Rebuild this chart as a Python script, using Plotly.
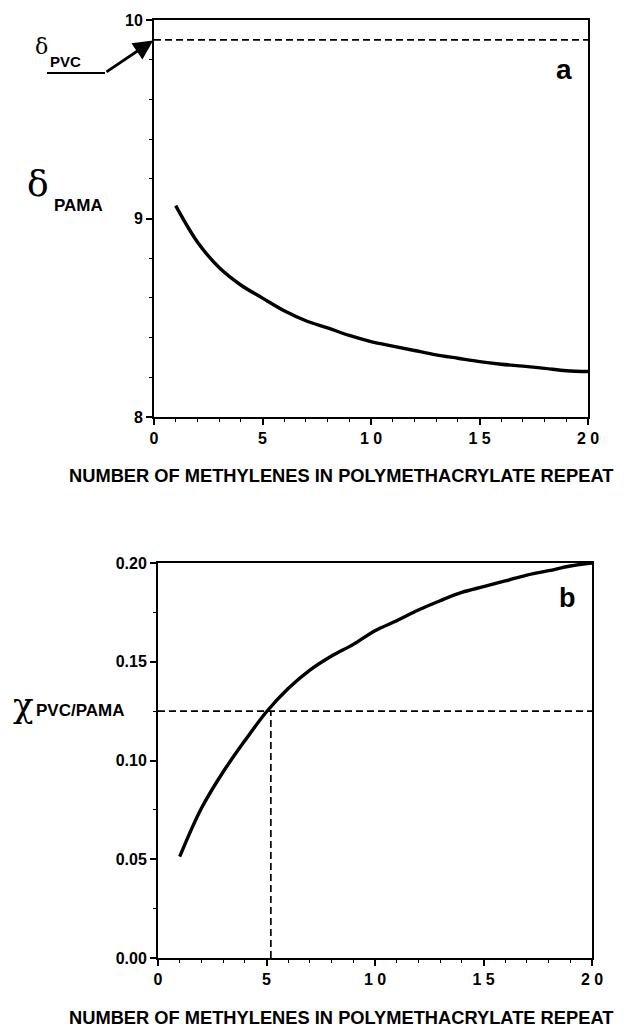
import plotly.graph_objects as go

# ---- data ----
n_methylenes = [1, 2, 3, 4, 5, 6, 7, 8, 9, 10, 11, 12, 13, 14, 15, 16, 17, 18, 19, 20]
delta_pama = [9.065, 8.882, 8.753, 8.665, 8.599, 8.535, 8.485, 8.449, 8.411, 8.380,
              8.357, 8.335, 8.313, 8.296, 8.279, 8.266, 8.256, 8.245, 8.233, 8.229]
chi_pvc_pama = [0.0513, 0.0758, 0.0942, 0.1100, 0.1247, 0.1365, 0.1458, 0.1529, 0.1588, 0.1657,
                0.1708, 0.1762, 0.1809, 0.1851, 0.1880, 0.1909, 0.1939, 0.1961, 0.1985, 0.2000]
delta_pvc = 9.9
chi_crit = 0.125
n_crit = 5.2

x_tickvals = [0, 5, 10, 15, 20]
x_ticktext = ["0", "5", "1 0", "1 5", "2 0"]
ya_tickvals = [8, 9, 10]
ya_ticktext = ["8", "9", "10"]
yb_tickvals = [0.0, 0.05, 0.10, 0.15, 0.20]
yb_ticktext = ["0.00", "0.05", "0.10", "0.15", "0.20"]
x_title = "NUMBER OF METHYLENES IN POLYMETHACRYLATE REPEAT"

W, H = 630, 1030
SANS = "Liberation Sans"
SERIF = "DejaVu Serif"

fig = go.Figure()

# panel a
fig.add_trace(go.Scatter(x=[0, 20], y=[delta_pvc, delta_pvc], mode="lines",
                         line=dict(color="black", width=1.7, dash="7px,4px"),
                         xaxis="x", yaxis="y", hoverinfo="skip"))
fig.add_trace(go.Scatter(x=n_methylenes, y=delta_pama, mode="lines",
                         line=dict(color="black", width=3.4, shape="spline"),
                         xaxis="x", yaxis="y"))
# panel b
fig.add_trace(go.Scatter(x=[0, 20], y=[chi_crit, chi_crit], mode="lines",
                         line=dict(color="black", width=1.7, dash="7px,4px"),
                         xaxis="x2", yaxis="y2", hoverinfo="skip"))
fig.add_trace(go.Scatter(x=[n_crit, n_crit], y=[0, chi_crit], mode="lines",
                         line=dict(color="black", width=1.7, dash="7px,4px"),
                         xaxis="x2", yaxis="y2", hoverinfo="skip"))
fig.add_trace(go.Scatter(x=n_methylenes, y=chi_pvc_pama, mode="lines",
                         line=dict(color="black", width=3.4, shape="spline"),
                         xaxis="x2", yaxis="y2"))

tickfont = dict(family=SANS, size=16, color="black")

def bold(lst):
    return ["<b>%s</b>" % t for t in lst]

def xax(domain, anchor):
    return dict(domain=domain, anchor=anchor, range=[0, 20], automargin=False,
                tickmode="array", tickvals=x_tickvals, ticktext=bold(x_ticktext),
                ticks="outside", ticklen=6, tickwidth=1.5, tickcolor="black",
                showline=True, linewidth=2, linecolor="black", mirror=True,
                showgrid=False, zeroline=False, tickfont=tickfont,
                minor=dict(dtick=1, tick0=0, ticks="outside", ticklen=3,
                           tickwidth=1.2, tickcolor="black", showgrid=False),
                fixedrange=True)

def yax(domain, anchor, rng, vals, text, minor_dtick):
    return dict(domain=domain, anchor=anchor, range=rng, automargin=False,
                tickmode="array", tickvals=vals, ticktext=bold(text),
                ticks="outside", ticklen=6, tickwidth=1.5, tickcolor="black",
                showline=True, linewidth=2, linecolor="black", mirror=True,
                showgrid=False, zeroline=False, tickfont=tickfont,
                minor=dict(dtick=minor_dtick, tick0=rng[0], ticks="outside", ticklen=3,
                           tickwidth=1.2, tickcolor="black", showgrid=False),
                fixedrange=True)

def px(xp):
    return xp / W

def py(yp):
    return 1 - yp / H

fig.update_layout(
    width=W, height=H,
    margin=dict(l=0, r=0, t=0, b=0, pad=0, autoexpand=False),
    paper_bgcolor="white", plot_bgcolor="white",
    showlegend=False,
    xaxis=xax([px(154), px(588)], "y"),
    yaxis=yax([py(417), py(20)], "x", [8, 10], ya_tickvals, ya_ticktext, 0.2),
    xaxis2=xax([px(158), px(592)], "y2"),
    yaxis2=yax([py(958), py(563)], "x2", [0, 0.2], yb_tickvals, yb_ticktext, 0.025),
)

ann = []
def label(text, x, y, size, family=SANS, isbold=True, xanchor="center"):
    f = dict(family=family, size=size, color="black")
    t = "<b>%s</b>" % text if isbold else text
    ann.append(dict(text=t, xref="paper", yref="paper", x=px(x), y=py(y),
                    xanchor=xanchor, yanchor="middle", showarrow=False, font=f))

# axis titles
label(x_title, 341, 475, 18.3)
label(x_title, 341, 1017, 18.3)
# panel letters
label("a", 564, 70, 28)
label("b", 567, 598, 27)
# y labels
label("δ", 38, 183, 36, family=SERIF, isbold=False)
label("PAMA", 78, 206, 17)
label("χ", 23, 705, 34, family=SERIF, isbold=False)
label("PVC/PAMA", 80, 710, 17)
# delta PVC label
label("δ", 41, 46, 22, family=SERIF, isbold=False)
label("PVC", 65, 61, 15)

# arrow to the delta_pvc level
ann.append(dict(text="", x=0, y=delta_pvc, xref="x", yref="y",
                ax=-49, ay=33, showarrow=True, arrowhead=2, arrowsize=1.4,
                arrowwidth=2.8, arrowcolor="black", standoff=1))

fig.update_layout(annotations=ann)

fig.add_shape(type="line", xref="paper", yref="paper",
              x0=px(47), x1=px(105), y0=py(73), y1=py(73),
              line=dict(color="black", width=2.2))

fig.write_html("out.html")
